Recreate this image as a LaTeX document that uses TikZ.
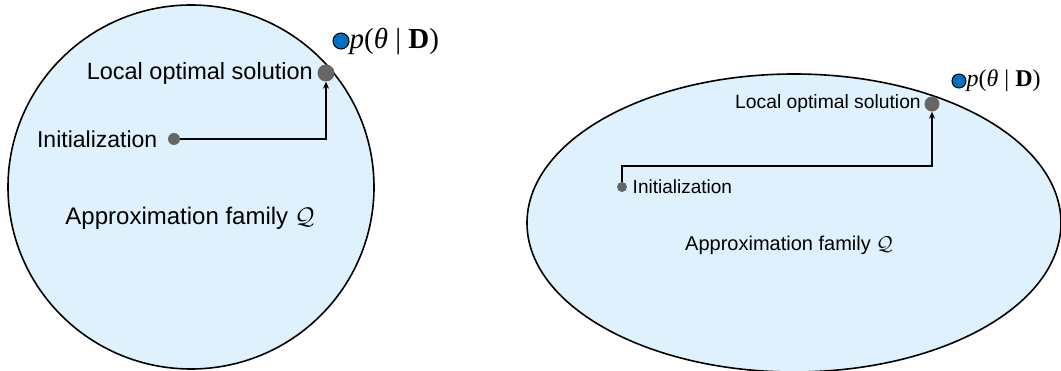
\documentclass[tikz,border=0pt]{standalone}
\usepackage{fix-cm}
\usepackage{fontspec}
\setmainfont{Liberation Sans}
\newfontfamily\postfont{Liberation Serif}
\usetikzlibrary{positioning,arrows.meta}
\definecolor{familyblue}{RGB}{222,241,253}
\definecolor{dotgray}{RGB}{102,102,102}
\definecolor{postblue}{RGB}{0,112,192}
\newcommand{\postlabel}{\postfont\textit{p}(\textit{θ} | \textbf{D})}
\begin{document}
\begin{tikzpicture}[x=1pt,y=-1pt,
    dot/.style={circle,fill=dotgray,inner sep=0pt,minimum size=#1},
    post/.style={circle,draw=black,line width=1pt,fill=postblue,inner sep=0pt,minimum size=#1},
    path/.style={line width=1.8pt,-{Stealth[length=7pt,width=6pt]}}]
\useasboundingbox (0,0) rectangle (1061,371);
% left: circle-shaped family
\draw[fill=familyblue,line width=1.6pt] (191,187) ellipse [x radius=183, y radius=182];
\node[dot=12pt] (init1) at (174,139) {};
\node[dot=17pt] (opt1) at (326,73) {};
\node[post=16pt] (post1) at (341,41) {};
\node[right=0pt of post1,inner sep=0pt,font=\fontsize{29}{32}\selectfont] (ptext1) {\postlabel};
\node[left=7pt of init1,font=\fontsize{23}{27}\selectfont] (itext1) {Initialization};
\node[left=1pt of opt1,font=\fontsize{23.5}{27}\selectfont] (otext1) {Local optimal solution};
\node[font=\fontsize{24}{28}\selectfont] (family1) at (190,218) {Approximation family $\mathcal{Q}$};
\draw[path] (init1) -| (opt1);
% right: wide family
\draw[fill=familyblue,line width=1.6pt] (794,223) ellipse [x radius=267, y radius=149];
\node[dot=10pt] (init2) at (622,187) {};
\node[dot=15pt] (opt2) at (932,104) {};
\node[post=14pt] (post2) at (959,81) {};
\node[right=0pt of post2,inner sep=0pt,font=\fontsize{24}{27}\selectfont] (ptext2) {\postlabel};
\node[right=2pt of init2,font=\fontsize{19}{23}\selectfont] (itext2) {Initialization};
\node[left=0pt of opt2,font=\fontsize{19.3}{23}\selectfont] (otext2) {Local optimal solution};
\node[font=\fontsize{20}{24}\selectfont] (family2) at (789,245) {Approximation family $\mathcal{Q}$};
\coordinate (turn2) at (622,166);
\draw[path] (init2) -- (turn2) -| (opt2);
\end{tikzpicture}
\end{document}
